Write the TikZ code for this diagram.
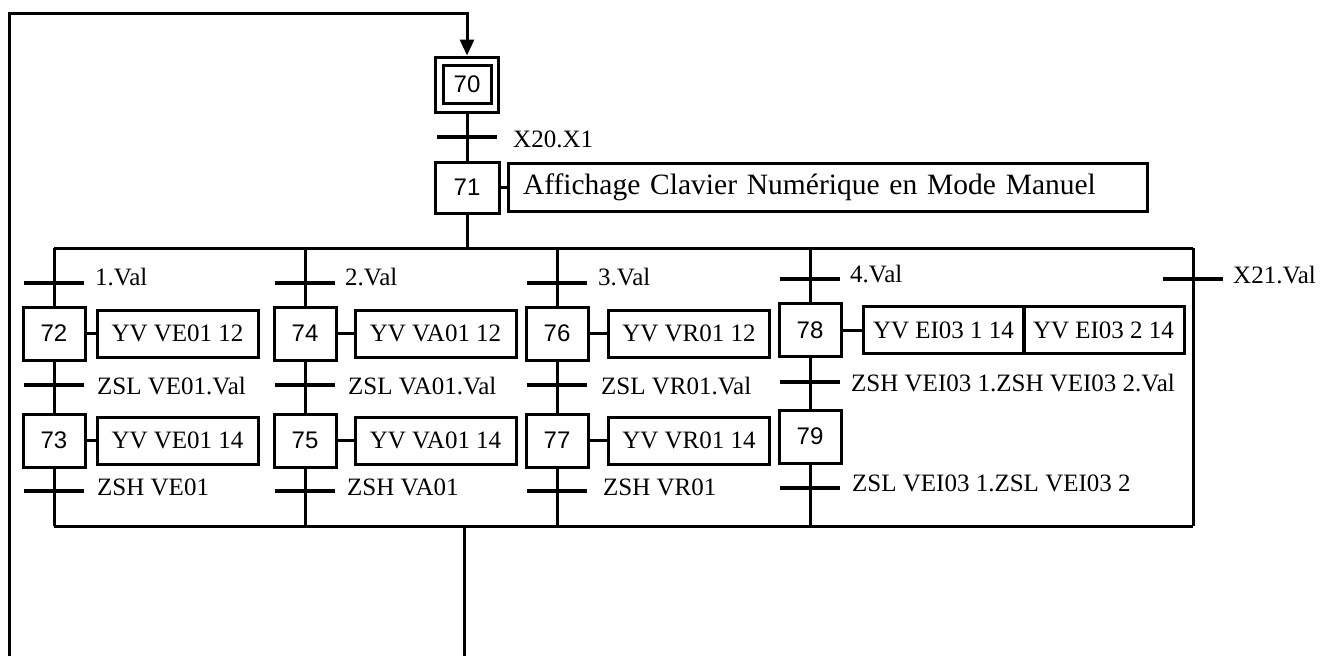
\documentclass[tikz,border=0pt]{standalone}
\usepackage{fontspec}
\setmainfont{Liberation Serif}
\newfontfamily\numfont{Liberation Sans}
\usetikzlibrary{positioning, arrows.meta}

\begin{document}
\begin{tikzpicture}[x=1pt, y=-1pt,
  etape/.style={draw, line width=3pt, minimum width=62pt, minimum height=53pt,
                inner sep=0pt, font=\numfont\fontsize{24}{28}\selectfont},
  action/.style={draw, line width=3pt, minimum width=161pt, minimum height=47pt,
                 inner sep=0pt, font=\fontsize{25}{30}\selectfont},
  trans/.style={fill=black, minimum width=60pt, minimum height=4.5pt, inner sep=0pt},
  recep/.style={anchor=west, inner sep=0pt, font=\fontsize{25}{30}\selectfont},
  lien/.style={line width=3pt}]
  \useasboundingbox (0,0) rectangle (1324,656);
  % etapes 70 et 71
  \node[etape, minimum width=63pt, minimum height=55pt] (s70) at (467,84.5) {};
  \node[etape, minimum width=48pt, minimum height=38pt] (s70i) at (467,84.5) {70};
  \node[trans] (t70) at (467,137) {};
  \node[recep] (r70) at (513,139) {X20.X1};
  \node[etape, minimum width=64pt, minimum height=51pt] (s71) at (467,187.5) {71};
  \node[action, text width=609pt, inner xsep=15pt, minimum height=48pt, align=left,
        font=\fontsize{29.5}{36}\selectfont] (a71) at (827.5,187.5)
        {Affichage Clavier Numérique en Mode Manuel};
  % points de l'aiguillage
  \coordinate (div)  at (467,248);
  \coordinate (conv) at (464,526);
  \coordinate (bas)  at (464,656);
  \coordinate (gauche) at (9,656);
  \coordinate (retour) at (9,13);
  \coordinate (b1h) at (54,248);   \coordinate (b1b) at (54,526);
  \coordinate (b2h) at (305,248);  \coordinate (b2b) at (305,526);
  \coordinate (b3h) at (557,248);  \coordinate (b3b) at (557,526);
  \coordinate (b4h) at (810,248);  \coordinate (b4b) at (810,526);
  \coordinate (b5h) at (1193,248); \coordinate (b5b) at (1193,526);
  % branche 1
  \node[trans] (t1) at (54,283) {};
  \node[recep] (r1) at (95,277) {1.Val};
  \node[etape] (s72) at (54,333.5) {72};
  \node[action] (a72) at (177.5,333.5) {YV VE01 12};
  \node[trans] (t72) at (54,385) {};
  \node[recep] (r72) at (97,386) {ZSL VE01.Val};
  \node[etape] (s73) at (54,440.5) {73};
  \node[action] (a73) at (177.5,440.5) {YV VE01 14};
  \node[trans] (t73) at (54,491) {};
  \node[recep] (r73) at (97,487) {ZSH VE01};
  % branche 2
  \node[trans] (t2) at (305,283) {};
  \node[recep] (r2) at (345,277) {2.Val};
  \node[etape] (s74) at (305,333.5) {74};
  \node[action] (a74) at (435.5,333.5) {YV VA01 12};
  \node[trans] (t74) at (305,385) {};
  \node[recep] (r74) at (348,386) {ZSL VA01.Val};
  \node[etape] (s75) at (305,440.5) {75};
  \node[action] (a75) at (435.5,440.5) {YV VA01 14};
  \node[trans] (t75) at (305,491) {};
  \node[recep] (r75) at (347,487) {ZSH VA01};
  % branche 3
  \node[trans] (t3) at (557,283) {};
  \node[recep] (r3) at (598,277) {3.Val};
  \node[etape] (s76) at (557,333.5) {76};
  \node[action] (a76) at (689,333.5) {YV VR01 12};
  \node[trans] (t76) at (557,385) {};
  \node[recep] (r76) at (601,386) {ZSL VR01.Val};
  \node[etape] (s77) at (557,440.5) {77};
  \node[action] (a77) at (689,440.5) {YV VR01 14};
  \node[trans] (t77) at (557,491) {};
  \node[recep] (r77) at (603,487) {ZSH VR01};
  % branche 4
  \node[trans] (t4) at (810,279) {};
  \node[recep] (r4) at (850,274) {4.Val};
  \node[etape] (s78) at (810,330) {78};
  \node[action] (a78a) at (943.5,330) {YV EI03 1 14};
  \node[action] (a78b) at (1103.5,330) {YV EI03 2 14};
  \node[trans] (t78) at (810,382) {};
  \node[recep] (r78) at (851,383) {ZSH VEI03 1.ZSH VEI03 2.Val};
  \node[etape] (s79) at (810,436.5) {79};
  \node[trans] (t79) at (810,488) {};
  \node[recep] (r79) at (852,483) {ZSL VEI03 1.ZSL VEI03 2};
  % branche 5
  \node[trans] (t5) at (1193,279) {};
  \node[recep] (r5) at (1233,275) {X21.Val};
  % liaisons
  \draw[lien] (s70) -- (s71);
  \draw[lien] (s71) -- (a71);
  \draw[lien] (s71) -- (div);
  \draw[lien] (b1h) -- (b5h);
  \draw[lien] (b1b) -- (b5b);
  \draw[lien] (b1h) -- (s72);
  \draw[lien] (s72) -- (s73);
  \draw[lien] (s73) -- (b1b);
  \draw[lien] (s72) -- (a72);
  \draw[lien] (s73) -- (a73);
  \draw[lien] (b2h) -- (s74);
  \draw[lien] (s74) -- (s75);
  \draw[lien] (s75) -- (b2b);
  \draw[lien] (s74) -- (a74);
  \draw[lien] (s75) -- (a75);
  \draw[lien] (b3h) -- (s76);
  \draw[lien] (s76) -- (s77);
  \draw[lien] (s77) -- (b3b);
  \draw[lien] (s76) -- (a76);
  \draw[lien] (s77) -- (a77);
  \draw[lien] (b4h) -- (s78);
  \draw[lien] (s78) -- (s79);
  \draw[lien] (s79) -- (b4b);
  \draw[lien] (s78) -- (a78a);
  \draw[lien] (b5h) -- (b5b);
  \draw[lien] (conv) -- (bas);
  \draw[lien, -{Triangle[length=16pt, width=14pt]}] (gauche) -- (retour) -| (s70.north);
\end{tikzpicture}
\end{document}
